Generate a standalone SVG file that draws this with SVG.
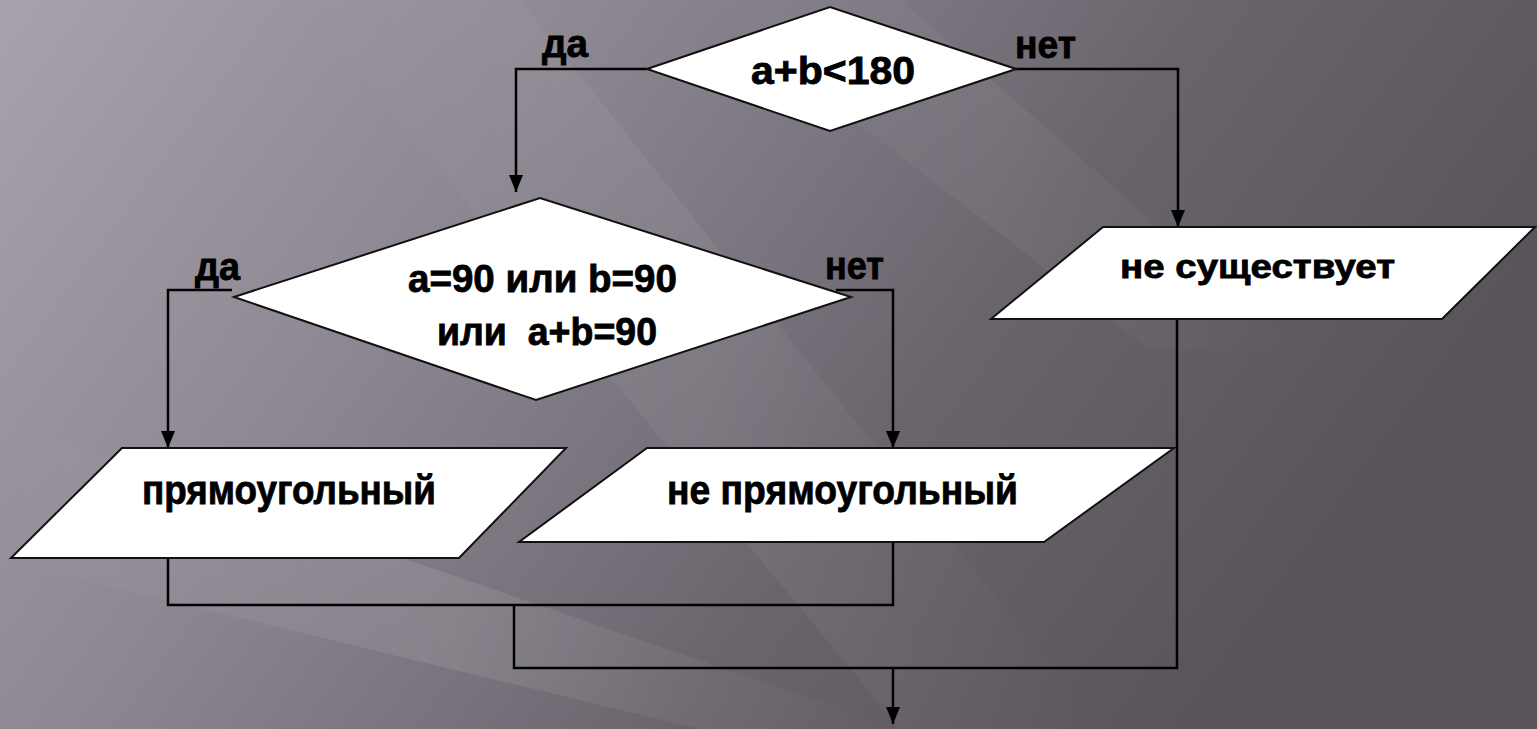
<svg xmlns="http://www.w3.org/2000/svg" width="1537" height="729" viewBox="0 0 1537 729">
<defs>
<linearGradient id="bg" x1="0" y1="0" x2="1" y2="0.35">
<stop offset="0" stop-color="#a8a2ac"/>
<stop offset="0.35" stop-color="#8d8792"/>
<stop offset="0.7" stop-color="#6a656d"/>
<stop offset="1" stop-color="#59545c"/>
</linearGradient>
<linearGradient id="streak" x1="0" y1="0" x2="1" y2="0">
<stop offset="0" stop-color="#ffffff" stop-opacity="0"/>
<stop offset="0.5" stop-color="#ffffff" stop-opacity="0.10"/>
<stop offset="1" stop-color="#ffffff" stop-opacity="0"/>
</linearGradient>
<marker id="arrd" viewBox="0 0 14 17" refX="7" refY="17" markerWidth="14" markerHeight="17" markerUnits="userSpaceOnUse" orient="0">
<path d="M0,0 L14,0 L7,17 Z" fill="#000"/>
</marker>
</defs>
<style>
.shape{fill:#ffffff;stroke:#111;stroke-width:2}
.line{fill:none;stroke:#000;stroke-width:2.5}
.t{font-family:"Liberation Sans",Arial,sans-serif;font-weight:bold;fill:#000;stroke:#000;stroke-width:0.8}
</style>
<rect width="1537" height="729" fill="url(#bg)"/>
<polygon points="0,420 0,560 700,729 900,729" fill="url(#streak)"/>
<polygon points="300,0 520,0 1100,729 900,729" fill="url(#streak)" opacity="0.6"/>
<polygon points="700,0 900,0 1300,350 1150,350" fill="url(#streak)" opacity="0.5"/>

<g id="connectors">
<path class="line" d="M647,69 H516 V192" marker-end="url(#arrd)"/>
<path class="line" d="M1016,69 H1178 V227" marker-end="url(#arrd)"/>
<path class="line" d="M232,290 H168 V448" marker-end="url(#arrd)"/>
<path class="line" d="M836,290 H893 V448" marker-end="url(#arrd)"/>
<path class="line" d="M168,558 V605 H893 V542"/>
<path class="line" d="M514,605 V668 H1177 V319"/>
<path class="line" d="M893,668 V724" marker-end="url(#arrd)"/>
</g>

<g id="cond1">
<polygon class="shape" points="647,69 830,7 1016,69 830,131"/>
<text class="t" x="751" y="84" font-size="38" textLength="164" lengthAdjust="spacingAndGlyphs">a+b&lt;180</text>
</g>
<g id="label-da1"><text class="t" x="542" y="57" font-size="38" textLength="46" lengthAdjust="spacingAndGlyphs">да</text></g>
<g id="label-net1"><text class="t" x="1015" y="58" font-size="38" textLength="61" lengthAdjust="spacingAndGlyphs">нет</text></g>

<g id="cond2">
<polygon class="shape" points="234,297 540,198 851,297 536,400"/>
<text class="t" x="408" y="292" font-size="38" textLength="269" lengthAdjust="spacingAndGlyphs">a=90 или b=90</text>
<text class="t" x="437" y="345" font-size="38" textLength="220" lengthAdjust="spacingAndGlyphs" xml:space="preserve">или  a+b=90</text>
</g>
<g id="label-da2"><text class="t" x="195" y="280" font-size="38" textLength="45" lengthAdjust="spacingAndGlyphs">да</text></g>
<g id="label-net2"><text class="t" x="825" y="279" font-size="38" textLength="59" lengthAdjust="spacingAndGlyphs">нет</text></g>

<g id="out-none">
<polygon class="shape" points="1103,227 1535,227 1442,319 991,319"/>
<text class="t" x="1120" y="278" font-size="33" textLength="275" lengthAdjust="spacingAndGlyphs">не существует</text>
</g>

<g id="out-right">
<polygon class="shape" points="122,448 566,448 459,558 11,558"/>
<text class="t" x="142" y="504" font-size="40" textLength="294" lengthAdjust="spacingAndGlyphs">прямоугольный</text>
</g>

<g id="out-notright">
<polygon class="shape" points="647,448 1174,448 1044,542 519,542"/>
<text class="t" x="667" y="504" font-size="40" textLength="351" lengthAdjust="spacingAndGlyphs">не прямоугольный</text>
</g>
</svg>
